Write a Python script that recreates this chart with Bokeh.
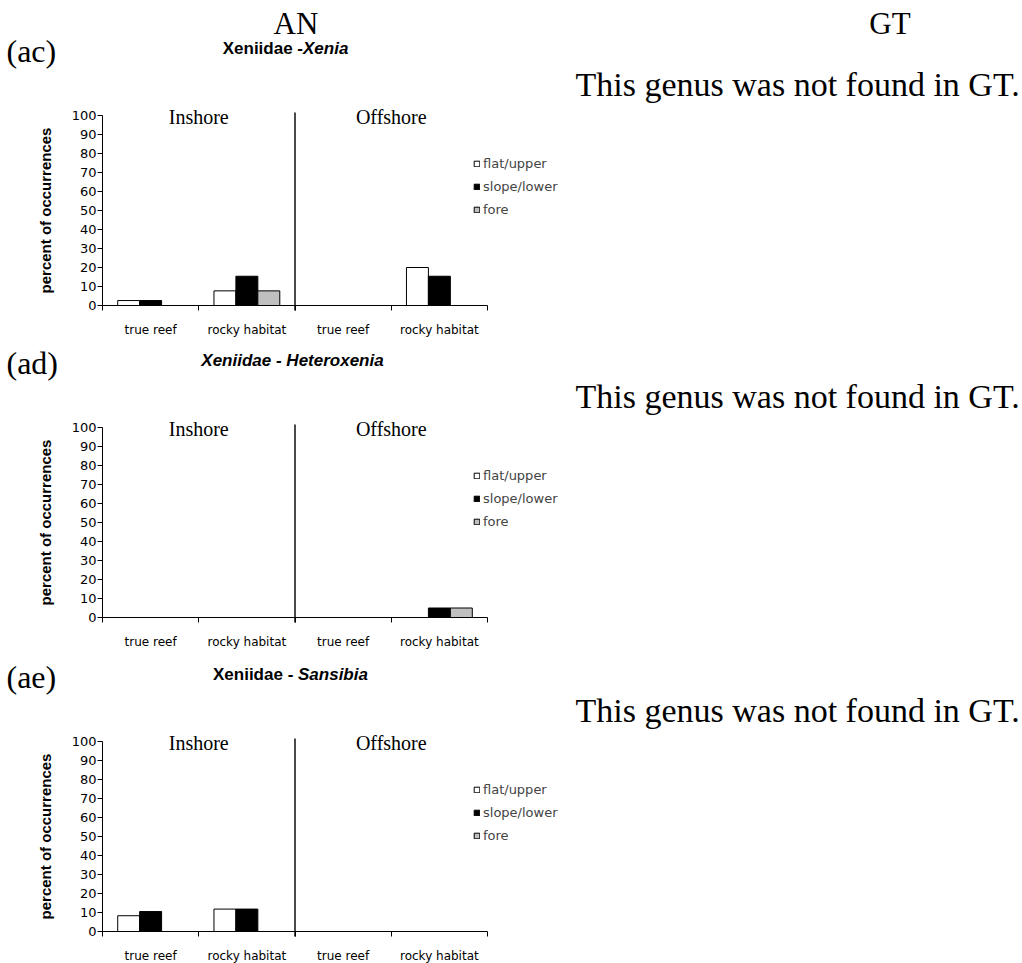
from bokeh.plotting import figure
from bokeh.models import (ColumnDataSource, Range1d, FixedTicker, Label, Legend, LegendItem,
                          LinearAxis)
from bokeh.transform import dodge
from bokeh.embed import file_html
from bokeh.resources import INLINE

# ---------------- data ----------------
categories = ["true reef", "rocky habitat", "true reef", "rocky habitat"]
zones = ["Inshore", "Offshore"]
series_names = ["flat/upper", "slope/lower", "fore"]
y_ticks = [0, 10, 20, 30, 40, 50, 60, 70, 80, 90, 100]

xenia_flat = [2.6, 7.7, 0.0, 20.0]
xenia_slope = [2.6, 15.4, 0.0, 15.4]
xenia_fore = [0.0, 7.7, 0.0, 0.0]

hetero_flat = [0.0, 0.0, 0.0, 0.0]
hetero_slope = [0.0, 0.0, 0.0, 5.0]
hetero_fore = [0.0, 0.0, 0.0, 5.0]

sans_flat = [8.3, 11.8, 0.0, 0.0]
sans_slope = [10.5, 11.8, 0.0, 0.0]
sans_fore = [0.0, 0.0, 0.0, 0.0]

panel_labels = ["(ac)", "(ad)", "(ae)"]
not_found_text = "This genus was not found in GT."
col_headers = ["AN", "GT"]

# ---------------- layout / style ----------------
W, H = 1022, 963
X_LEFT, X_RIGHT = 102, 487          # page px of the category axis ends
PX_PER_PCT = 1.9
ZERO_ROWS = [305, 617, 931]         # page px of value 0 for each chart
FILLS = ["white", "black", "#c0c0c0"]
SERIF = "Liberation Serif"
SANS = "Liberation Sans"
TICKF = "DejaVu Sans"
BAR_W = 0.228
OFFS = [-0.228, 0.0, 0.228]

n = len(categories)
px_per_cat = (X_RIGHT - X_LEFT) / n


def y_range_for(y0):
    return Range1d(-(H - y0) / PX_PER_PCT, y0 / PX_PER_PCT)


p = figure(width=W, height=H, output_backend="svg", toolbar_location=None,
           x_axis_type=None, y_axis_type=None,
           x_range=Range1d(-X_LEFT / px_per_cat, (W - X_LEFT) / px_per_cat),
           y_range=y_range_for(ZERO_ROWS[0]),
           min_border_left=0, min_border_right=0, min_border_top=0, min_border_bottom=0,
           background_fill_color="white", border_fill_color="white")
p.outline_line_color = None
p.extra_y_ranges = {"c1": y_range_for(ZERO_ROWS[1]), "c2": y_range_for(ZERO_ROWS[2])}


def sy(page_y):
    return H - page_y


def chart(k, vals, title_parts, panel):
    rn = "default" if k == 0 else "c%d" % k
    y0 = ZERO_ROWS[k]
    t100 = y0 - 100 * PX_PER_PCT
    src = ColumnDataSource(dict(x=[i + 0.5 for i in range(n)],
                                s0=vals[0], s1=vals[1], s2=vals[2]))
    items = []
    for j in range(3):
        r = p.vbar(x=dodge("x", OFFS[j]), top="s%d" % j, width=BAR_W, source=src,
                   fill_color=FILLS[j], line_color="black", line_width=1, y_range_name=rn)
        items.append(LegendItem(label=series_names[j], renderers=[r]))

    half = n // 2
    p.segment(x0=[half], y0=[-5 / PX_PER_PCT], x1=[half], y1=[100 + 3 / PX_PER_PCT],
              line_color="#4a4a4a", line_width=2, y_range_name=rn)

    xa = LinearAxis(y_range_name=rn, fixed_location=0, bounds=(0, n))
    xa.ticker = FixedTicker(ticks=[i + 0.5 for i in range(n)], minor_ticks=list(range(n + 1)))
    xa.major_label_overrides = {i + 0.5: categories[i] for i in range(n)}
    xa.major_tick_out = 5
    xa.major_tick_in = 0
    xa.major_tick_line_color = None
    xa.minor_tick_out = 5
    xa.minor_tick_in = 0
    xa.minor_tick_line_color = "black"
    xa.major_label_standoff = 12
    xa.major_label_text_font = TICKF
    xa.major_label_text_font_size = "12px"
    xa.major_label_text_color = "black"
    xa.axis_line_color = "black"
    p.add_layout(xa, "below")

    ya = LinearAxis(y_range_name=rn, fixed_location=0, bounds=(0, 100))
    ya.ticker = FixedTicker(ticks=y_ticks)
    ya.major_tick_out = 5
    ya.major_tick_in = 0
    ya.minor_tick_line_color = None
    ya.major_label_standoff = 1
    ya.major_label_text_font = TICKF
    ya.major_label_text_font_size = "13px"
    ya.major_label_text_color = "black"
    ya.axis_line_color = "black"
    ya.axis_label = "percent of occurrences"
    ya.axis_label_text_font = SANS
    ya.axis_label_text_font_style = "bold"
    ya.axis_label_text_font_size = "15px"
    ya.axis_label_text_color = "black"
    ya.axis_label_standoff = 15
    p.add_layout(ya, "left")

    for i, z in enumerate(zones):
        p.add_layout(Label(x=2 * i + 1, y=100 - 1 / PX_PER_PCT, y_range_name=rn, text=z,
                           text_align="center", text_baseline="alphabetic", text_font=SERIF,
                           text_font_size="20px", text_color="black"))

    leg = Legend(items=items, location=(473, sy(t100 + 104)), padding=0, margin=0,
                 border_line_color=None, background_fill_alpha=0,
                 glyph_width=7, glyph_height=7, label_standoff=3,
                 label_height=20, spacing=3,
                 label_text_font=TICKF, label_text_font_size="13px")
    p.add_layout(leg, "center")

    p.add_layout(Label(x=6, y=sy(t100 - 65), x_units="screen", y_units="screen", text=panel,
                       text_font=SERIF, text_font_size="32px", text_baseline="alphabetic",
                       text_color="black"))
    for (txt, xs, align, style) in title_parts:
        p.add_layout(Label(x=xs, y=sy(t100 - 67), x_units="screen", y_units="screen", text=txt,
                           text_font=SANS, text_font_size="17px", text_font_style=style,
                           text_align=align, text_baseline="alphabetic", text_color="black"))
    p.add_layout(Label(x=575, y=sy(t100 - 31), x_units="screen", y_units="screen",
                       text=not_found_text, text_font=SERIF, text_font_size="34px",
                       text_baseline="alphabetic", text_color="black"))


chart(0, [xenia_flat, xenia_slope, xenia_fore],
      [("Xeniidae -", 302.5, "right", "bold"), ("Xenia", 302.5, "left", "bold italic")],
      panel_labels[0])
chart(1, [hetero_flat, hetero_slope, hetero_fore],
      [("Xeniidae - Heteroxenia", 292, "center", "bold italic")], panel_labels[1])
chart(2, [sans_flat, sans_slope, sans_fore],
      [("Xeniidae -", 292.8, "right", "bold"), ("Sansibia", 297.5, "left", "bold italic")],
      panel_labels[2])

for txt, xs in zip(col_headers, [295.5, 889.5]):
    p.add_layout(Label(x=xs, y=sy(23), x_units="screen", y_units="screen", text=txt,
                       text_font=SERIF, text_font_size="31px", text_align="center",
                       text_baseline="alphabetic", text_color="black"))

open("out.html", "w").write(file_html(p, INLINE))
